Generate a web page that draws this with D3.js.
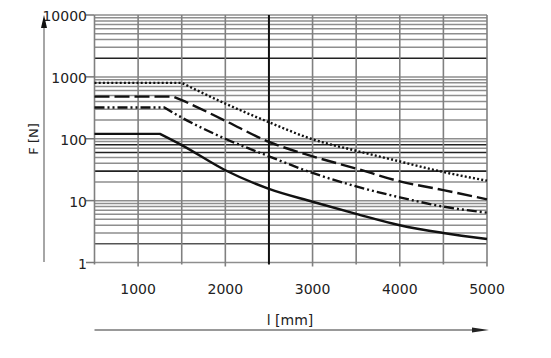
<!DOCTYPE html>
<html><head><meta charset="utf-8">
<script src="https://cdn.jsdelivr.net/npm/d3@7"></script>
<style>html,body{margin:0;padding:0;background:#fff;} svg{display:block;}</style>
</head><body>
<svg id="c" width="551" height="358"></svg>
<script>
// Data
const xTicks = [1000, 2000, 3000, 4000, 5000];
const xGrid = [500, 1000, 1500, 2000, 2500, 3000, 3500, 4000, 4500, 5000];
const yTicks = [1, 10, 100, 1000, 10000];
const yTickLabels = ["1", "10", "100", "1000", "10000"];
const darkGrid = [2000, 80, 60, 30];
const midGrid = [2];
const heavyVertical = [2500];

const xSolid   = [500, 1250, 1500, 2000, 2500, 3000, 3500, 4000, 4500, 5000];
const fSolid   = [120, 120, 79, 31, 15.5, 9.6, 6.1, 4.0, 3.0, 2.4];
const xDashDot = [500, 1300, 1500, 2000, 2500, 3000, 3500, 4000, 4500, 5000];
const fDashDot = [320, 320, 220, 100, 52, 28, 17, 11.3, 8, 6.4];
const xDashed  = [500, 1400, 1500, 2000, 2500, 3000, 3500, 4000, 4500, 5000];
const fDashed  = [480, 480, 420, 195, 89, 52, 33, 20.5, 14.8, 10.5];
const xDotted  = [500, 1500, 2000, 2500, 3000, 3500, 4000, 4500, 5000];
const fDotted  = [800, 800, 370, 185, 98, 64, 43, 29, 21];

const svg = d3.select("#c");
const x = d3.scaleLinear().domain([500, 5000]).range([94.5, 487]);
const y = d3.scaleLog().domain([1, 10000]).range([262.5, 15]);
const font = "DejaVu Sans";

// horizontal grid
const hVals = [];
for (let k = 0; k < 4; k++) for (let m = 1; m < 10; m++) hVals.push(m * Math.pow(10, k));
hVals.push(10000);
const gH = svg.append("g");
hVals.forEach(v => {
  const dark = darkGrid.includes(v), mid = midGrid.includes(v);
  gH.append("line").attr("x1", x(500)).attr("x2", x(5000))
    .attr("y1", y(v)).attr("y2", y(v))
    .attr("stroke", dark ? "#222" : (mid ? "#555" : "#8e8e8e"))
    .attr("stroke-width", dark ? 1.6 : 1.5);
});
// vertical grid
xGrid.forEach(v => {
  const heavy = heavyVertical.includes(v);
  svg.append("line").attr("x1", x(v)).attr("x2", x(v))
    .attr("y1", y(10000)).attr("y2", y(1) + (v % 1000 === 0 ? 4 : 2))
    .attr("stroke", heavy ? "#111" : "#808080").attr("stroke-width", heavy ? 2 : 1.6);
});

// y tick marks and labels
yTicks.forEach((v, i) => {
  svg.append("line").attr("x1", 86).attr("x2", x(500)).attr("y1", y(v)).attr("y2", y(v))
    .attr("stroke", "#777").attr("stroke-width", 1.5);
  svg.append("text").attr("x", 87).attr("y", y(v) + 6).attr("text-anchor", "end")
    .attr("font-family", font).attr("font-size", 14).attr("fill", "#222").text(yTickLabels[i]);
});
// x labels
xTicks.forEach(v => {
  svg.append("text").attr("x", x(v)).attr("y", 294).attr("text-anchor", "middle")
    .attr("font-family", font).attr("font-size", 14).attr("fill", "#222").text(v);
});

// y axis arrow
svg.append("line").attr("x1", 44).attr("x2", 44).attr("y1", 262).attr("y2", 22)
  .attr("stroke", "#888").attr("stroke-width", 1.5);
svg.append("path").attr("d", "M44,15 L41,28 L47,28 Z").attr("fill", "#111");
svg.append("text").attr("transform", "translate(38,139) rotate(-90)").attr("text-anchor", "middle")
  .attr("font-family", font).attr("font-size", 13).attr("fill", "#222").text("F [N]");

// x axis arrow
svg.append("line").attr("x1", x(500)).attr("x2", 478).attr("y1", 330).attr("y2", 330)
  .attr("stroke", "#777").attr("stroke-width", 1.5);
svg.append("path").attr("d", "M489,330 L472,327.5 L472,332.5 Z").attr("fill", "#222");
svg.append("text").attr("x", 290).attr("y", 325).attr("text-anchor", "middle")
  .attr("font-family", font).attr("font-size", 14).attr("fill", "#222").text("l [mm]");

// curves: straight plateau then smooth decline
function curvePath(xs, fs) {
  const pts = xs.map((v, i) => [x(v), y(fs[i])]);
  const flat = d3.line()(pts.slice(0, 2));
  const tail = d3.line().curve(d3.curveMonotoneX)(pts.slice(1));
  return flat + tail.replace(/^M/, "L");
}
const series = [
  {xs: xSolid, fs: fSolid, dash: null},
  {xs: xDashDot, fs: fDashDot, dash: "10,3,2,3,2,3"},
  {xs: xDashed, fs: fDashed, dash: "15,5"},
  {xs: xDotted, fs: fDotted, dash: "2,2.2"}
];
series.forEach(s => {
  const p = svg.append("path").attr("d", curvePath(s.xs, s.fs))
    .attr("fill", "none").attr("stroke", "#111").attr("stroke-width", 2.4);
  if (s.dash) p.attr("stroke-dasharray", s.dash);
});
</script>
</body></html>
